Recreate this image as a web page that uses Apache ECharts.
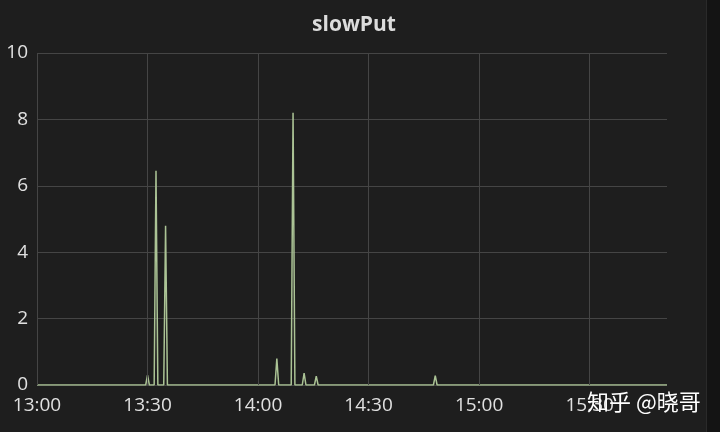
<!DOCTYPE html>
<html>
<head>
<meta charset="utf-8">
<script src="https://cdn.jsdelivr.net/npm/echarts@6/dist/echarts.min.js"></script>
<style>
html,body{margin:0;padding:0;background:#1e1e1e;}
#c{width:720px;height:432px;}
</style>
</head>
<body>
<div id="c"></div>
<script>
// minutes after 13:00
var minutes = [0, 29.5, 30, 30.5, 31.8, 32.3, 32.8, 34.4, 34.9, 35.4, 64.6, 65.1, 65.6, 69, 69.5, 70, 72, 72.5, 73, 75.3, 75.8, 76.3, 107.6, 108.1, 108.6, 171];
var values  = [0, 0, 0.3, 0, 0, 6.45, 0, 0, 4.8, 0, 0, 0.8, 0, 0, 8.2, 0, 0, 0.36, 0, 0, 0.27, 0, 0, 0.28, 0, 0];
var xTicks = [0, 30, 60, 90, 120, 150];
var yTicks = [0, 2, 4, 6, 8, 10];
var title = 'slowPut';
var watermark = '知乎 @晓哥';

function fmt(m){
  var h = 13 + Math.floor(m / 60);
  var mm = Math.round(m % 60);
  return h + ':' + (mm < 10 ? '0' + mm : mm);
}

var chart = echarts.init(document.getElementById('c'), null, {renderer:'canvas'});
var pts = minutes.map(function(m, i){ return [m, values[i]]; });
chart.setOption({
  backgroundColor: '#1e1e1e',
  animation: false,
  title: {
    text: title, left: 349, top: 10, textAlign: 'center',
    textStyle: {color: '#dcdcdc', fontFamily: 'Open Sans', fontWeight: 700, fontSize: 21}
  },
  grid: {left: 37, right: 53, top: 53, bottom: 47},
  xAxis: {
    type: 'value', min: 0, max: 171, interval: 30,
    axisLine: {show: false}, axisTick: {show: false},
    splitLine: {show: false},
    axisLabel: {
      color: '#e0e0e0', fontFamily: 'Open Sans', fontSize: 19, margin: 11,
      showMaxLabel: false,
      formatter: function(v){ return xTicks.indexOf(v) >= 0 ? fmt(v) : ''; }
    }
  },
  yAxis: {
    type: 'value', min: yTicks[0], max: yTicks[yTicks.length-1], interval: 2,
    axisLine: {show: false}, axisTick: {show: false},
    splitLine: {lineStyle: {color: '#454545', width: 1}},
    axisLabel: {color: '#e0e0e0', fontFamily: 'Open Sans', fontSize: 19, margin: 9}
  },
  series: [
    {
      type: 'line', data: [[0, 0]], z: 1, silent: true,
      symbol: 'none', lineStyle: {opacity: 0},
      markLine: {
        silent: true, symbol: 'none', label: {show: false},
        lineStyle: {color: '#454545', width: 1, type: 'solid'},
        data: xTicks.map(function(t){ return {xAxis: t}; })
      }
    },
    {
      type: 'line', data: pts, z: 3, symbol: 'none',
      lineStyle: {color: '#abc395', width: 1.5}
    }
  ],
  graphic: [
    {type: 'rect', shape: {x: 707, y: 0, width: 13, height: 432}, style: {fill: '#141414'}, z: 100},
    {type: 'rect', shape: {x: 706, y: 0, width: 1, height: 432}, style: {fill: '#2a2a2a'}, z: 100},
    {type: 'text', x: 587, y: 391, style: {text: watermark, fill: '#ffffff', fontSize: 22, fontFamily: 'Noto Sans CJK SC'}, z: 101}
  ]
});
</script>
</body>
</html>
